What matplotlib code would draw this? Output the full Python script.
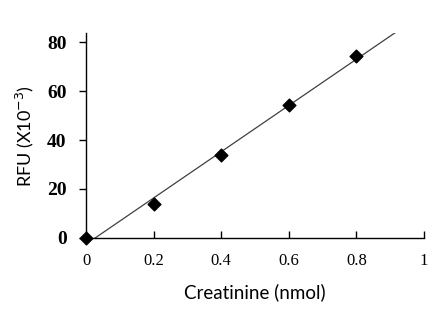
import numpy as np
import matplotlib
matplotlib.use("Agg")
import matplotlib.pyplot as plt

# creatinine standard curve
creatinine = [0.0, 0.2, 0.4, 0.6, 0.8]
rfu = [0.0, 13.8, 34.0, 54.2, 74.2]
x_ticks = [0, 0.2, 0.4, 0.6, 0.8, 1]
x_tick_labels = ["0", "0.2", "0.4", "0.6", "0.8", "1"]
y_ticks = [0, 20, 40, 60, 80]

fig = plt.figure(figsize=(4.44, 3.22), dpi=100)
ax = fig.add_axes([0.194, 0.261, 0.761, 0.635])

# linear trendline
slope, intercept = np.polyfit(creatinine, rfu, 1)
xs = np.array([0.0, 0.925])
ax.plot(xs, slope * xs + intercept, color="#404040", lw=0.9, zorder=2)

ax.scatter(creatinine, rfu, marker="D", s=42, color="black", zorder=3, clip_on=False)

ax.set_xlim(0, 1)
ax.set_ylim(0, 83.5)
ax.set_xticks(x_ticks)
ax.set_xticklabels(x_tick_labels)
ax.set_yticks(y_ticks)

for s in ["top", "right"]:
    ax.spines[s].set_visible(False)
for s in ["left", "bottom"]:
    ax.spines[s].set_linewidth(1.0)

ax.tick_params(axis="x", direction="in", length=5, width=1, pad=11,
               labelsize=12)
ax.tick_params(axis="y", direction="out", length=5, width=1, pad=9,
               labelsize=14)
for lab in ax.get_xticklabels():
    lab.set_family("Liberation Serif")
for lab in ax.get_yticklabels():
    lab.set_family("Liberation Serif")
    lab.set_fontweight("bold")

ax.set_xlabel("Creatinine (nmol)", fontsize=13.5, family="Lato", labelpad=10)
ax.set_ylabel(r"RFU (X10$^{-3}$)", fontsize=13, family="Lato", labelpad=8)

fig.savefig("out.png", dpi=100)
